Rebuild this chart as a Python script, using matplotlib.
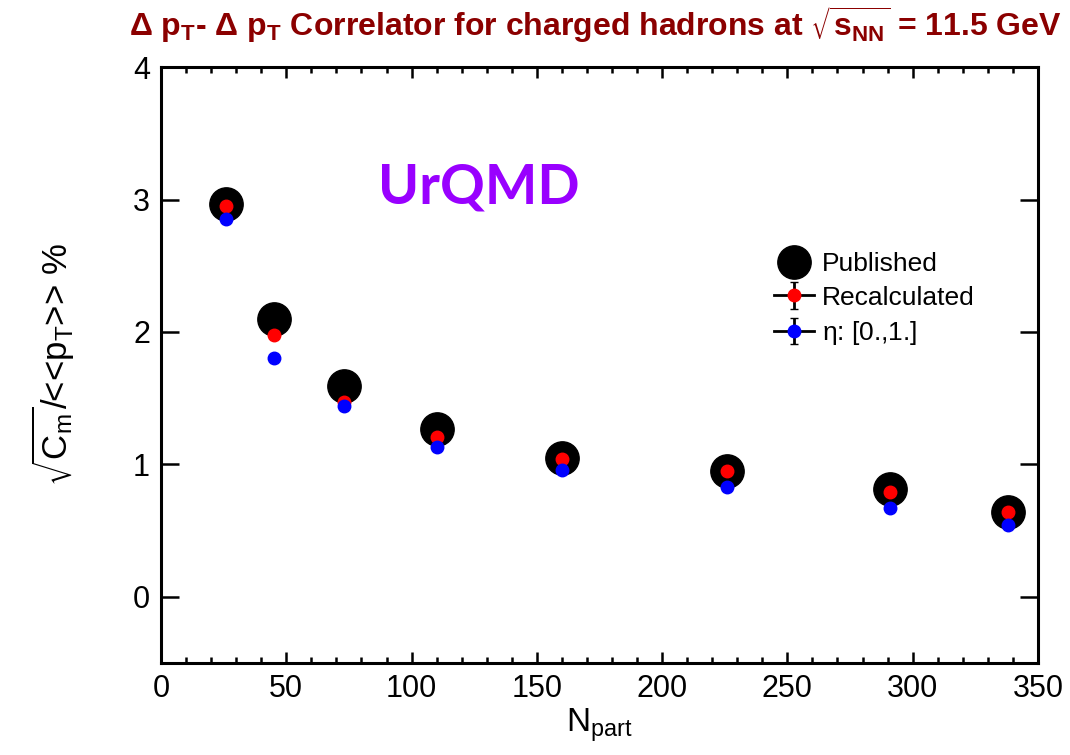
import numpy as np
import matplotlib
matplotlib.use('Agg')
import matplotlib.pyplot as plt
from matplotlib.ticker import MultipleLocator

plt.rcParams['font.family'] = ['Liberation Sans', 'DejaVu Sans']
plt.rcParams['mathtext.default'] = 'regular'

# centrality classes, Npart
npart = [26, 45, 73, 110, 160, 226, 291, 338]
# sqrt(C_m)/<<pT>> in %
published = [2.97, 2.10, 1.59, 1.27, 1.05, 0.95, 0.81, 0.64]
recalculated = [2.95, 1.98, 1.47, 1.21, 1.04, 0.95, 0.79, 0.64]
eta_0_1 = [2.85, 1.80, 1.44, 1.13, 0.96, 0.83, 0.67, 0.54]

labels = ['Published', 'Recalculated', r'$\eta$: [0.,1.]']

fig = plt.figure(figsize=(10.7, 7.55), dpi=100)
ax = fig.add_axes([0.1505, 0.122, 0.8195, 0.789])

ax.plot(npart, published, 'o', color='black', ms=24, zorder=2)
ax.plot(npart, recalculated, 'o', color='red', ms=9, zorder=3)
ax.plot(npart, eta_0_1, 'o', color='blue', ms=9, zorder=4)

# legend entries drawn ROOT style ("p" and "lep")
h_pub = ax.plot([np.nan], [np.nan], 'o', color='black', ms=24)[0]
h_rec = ax.errorbar([np.nan], [np.nan], yerr=[0.1], fmt='-o', color='black',
                    mfc='red', mec='red', ms=9, lw=2, elinewidth=2, capsize=3)
h_eta = ax.errorbar([np.nan], [np.nan], yerr=[0.1], fmt='-o', color='black',
                    mfc='blue', mec='blue', ms=9, lw=2, elinewidth=2, capsize=3)
ax.legend([h_pub, h_rec, h_eta], labels, loc='upper left',
          bbox_to_anchor=(0.678, 0.72), frameon=False, fontsize=19,
          handlelength=1.5, handletextpad=0.3, labelspacing=0.35,
          borderpad=0.2)

ax.set_xlim(0, 350)
ax.set_ylim(-0.5, 4)
ax.xaxis.set_major_locator(MultipleLocator(50))
ax.xaxis.set_minor_locator(MultipleLocator(10))
ax.yaxis.set_major_locator(MultipleLocator(1))

for s in ax.spines.values():
    s.set_linewidth(2.2)
ax.tick_params(axis='both', which='both', direction='in', top=True, right=True,
               width=1.8, labelsize=22, pad=8)
ax.tick_params(axis='x', which='major', length=8)
ax.tick_params(axis='x', which='minor', length=4)
ax.tick_params(axis='y', which='major', length=13)

ax.set_xlabel(r'N$_{part}$', fontsize=24, labelpad=2)
ax.set_ylabel(r'$\sqrt{C_{m}}$/<<p$_{T}$>> %', fontsize=25, labelpad=40)

ax.text(0.248, 0.772, 'UrQMD', transform=ax.transAxes, fontsize=40,
        fontweight='bold', color='#9900ff', family=['Lato', 'DejaVu Sans'])

fig.text(0.556, 0.968,
         r'$\Delta$ p$_{T}$- $\Delta$ p$_{T}$ Correlator for charged hadrons at $\sqrt{s_{NN}}$ = 11.5 GeV',
         ha='center', va='center', fontsize=23, fontweight='bold',
         color='#8b0000', family=['Liberation Sans Narrow', 'Liberation Sans'])

fig.savefig('out.png', dpi=100)
